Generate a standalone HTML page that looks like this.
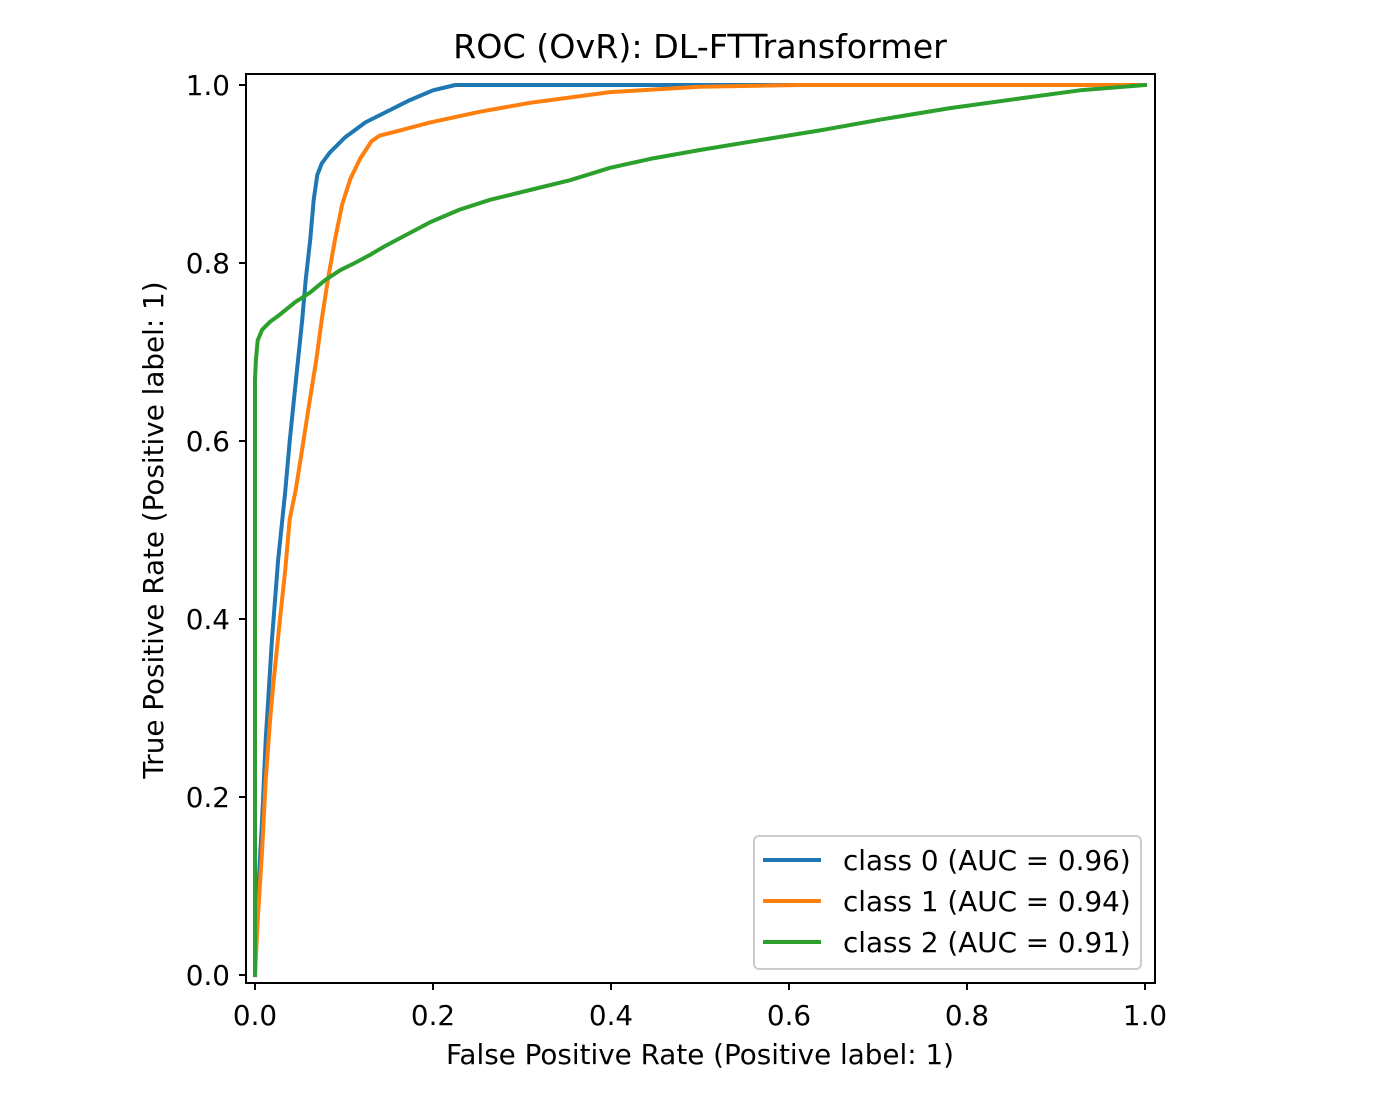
<!DOCTYPE html>
<html><head><meta charset="utf-8"><style>
html,body{margin:0;padding:0;background:#fff;}
svg text{font-family:"DejaVu Sans","Liberation Sans",sans-serif;fill:#000;}
</style></head><body>
<svg id="chart" width="1400" height="1100" xmlns="http://www.w3.org/2000/svg">
<rect width="1400" height="1100" fill="#fff"/>
<text x="700" y="58" font-size="33.3" text-anchor="middle">ROC (OvR): DL-FTTransformer</text>
<g id="plot"></g>
<text x="700" y="1064" font-size="27.8" text-anchor="middle">False Positive Rate (Positive label: 1)</text>
<text transform="translate(163,530) rotate(-90)" font-size="27.8" text-anchor="middle">True Positive Rate (Positive label: 1)</text>
</svg>
<script>
const tickValues=[0,0.2,0.4,0.6,0.8,1.0];
const tickLabels=["0.0","0.2","0.4","0.6","0.8","1.0"];
const seriesNames=["class 0 (AUC = 0.96)","class 1 (AUC = 0.94)","class 2 (AUC = 0.91)"];
const fpr0=[0,0.003,0.008,0.012,0.019,0.026,0.034,0.039,0.046,0.053,0.057,0.062,0.066,0.070,0.075,0.084,0.101,0.124,0.146,0.174,0.200,0.225,1];
const tpr0=[0,0.084,0.174,0.264,0.376,0.466,0.544,0.600,0.668,0.736,0.781,0.826,0.871,0.899,0.912,0.924,0.941,0.958,0.969,0.983,0.994,1.0,1.0];
const fpr1=[0,0.003,0.008,0.012,0.017,0.021,0.028,0.034,0.039,0.046,0.053,0.060,0.069,0.075,0.082,0.090,0.098,0.107,0.118,0.131,0.140,0.163,0.197,0.253,0.309,0.399,0.5,0.612,1];
const tpr1=[0,0.062,0.140,0.219,0.287,0.331,0.399,0.456,0.512,0.546,0.591,0.636,0.692,0.737,0.782,0.827,0.866,0.894,0.917,0.937,0.943,0.949,0.958,0.970,0.980,0.992,0.998,1.0,1.0];
const fpr2=[0,0,0.001,0.003,0.008,0.017,0.028,0.045,0.062,0.079,0.096,0.112,0.129,0.146,0.163,0.197,0.230,0.264,0.309,0.354,0.399,0.444,0.5,0.567,0.635,0.702,0.781,0.860,0.927,1];
const tpr2=[0,0.669,0.691,0.713,0.725,0.734,0.742,0.756,0.767,0.781,0.792,0.800,0.809,0.819,0.828,0.846,0.860,0.871,0.882,0.893,0.907,0.917,0.927,0.938,0.949,0.961,0.974,0.985,0.994,1];
const colors=["#1f77b4","#ff7f0e","#2ca02c"];
const NS="http://www.w3.org/2000/svg";
const x0=255,x1=1145,y0=975,y1=85;
const sx=v=>x0+(x1-x0)*v, sy=v=>y0-(y0-y1)*v;
const g=document.getElementById('plot');
function mk(t,a,parent){const e=document.createElementNS(NS,t);for(const k in a)e.setAttribute(k,a[k]);(parent||g).appendChild(e);return e;}
const xs=[fpr0,fpr1,fpr2], ys=[tpr0,tpr1,tpr2];
for(let s=0;s<3;s++){
  const d=xs[s].map((v,i)=>(i?'L':'M')+sx(v).toFixed(1)+','+sy(ys[s][i]).toFixed(1)).join(' ');
  const p=mk('path',{d:d,fill:'none',stroke:colors[s],'stroke-width':4,'stroke-linejoin':'round','stroke-linecap':'square'});
  
  
}
const fr=mk('rect',{x:246,y:74,width:909,height:909,fill:'none',stroke:'#000','stroke-width':2});


tickValues.forEach((v,i)=>{
  const tx=mk('line',{x1:sx(v),x2:sx(v),y1:983,y2:990,stroke:'#000','stroke-width':2});
  
  
  const lx=mk('text',{x:sx(v),y:1025,'font-size':27.8,'text-anchor':'middle'});lx.textContent=tickLabels[i];
  
  
  const ty=mk('line',{x1:239,x2:246,y1:sy(v),y2:sy(v),stroke:'#000','stroke-width':2});
  
  
  const ly=mk('text',{x:230,y:sy(v)+10,'font-size':27.8,'text-anchor':'end'});ly.textContent=tickLabels[i];
  
  
});
const lg=mk('g',{});


mk('rect',{x:754,y:836,width:387,height:133,rx:5,fill:'#fff','fill-opacity':0.8,stroke:'#ccc','stroke-width':2},lg);
seriesNames.forEach((n,i)=>{
  const yy=860+i*41;
  const l=mk('line',{x1:763,x2:821,y1:yy,y2:yy,stroke:colors[i],'stroke-width':4},lg);
  
  
  const t=mk('text',{x:843,y:yy+10,'font-size':27.8},lg);t.textContent=n;
  
  
});
</script>
</body></html>
